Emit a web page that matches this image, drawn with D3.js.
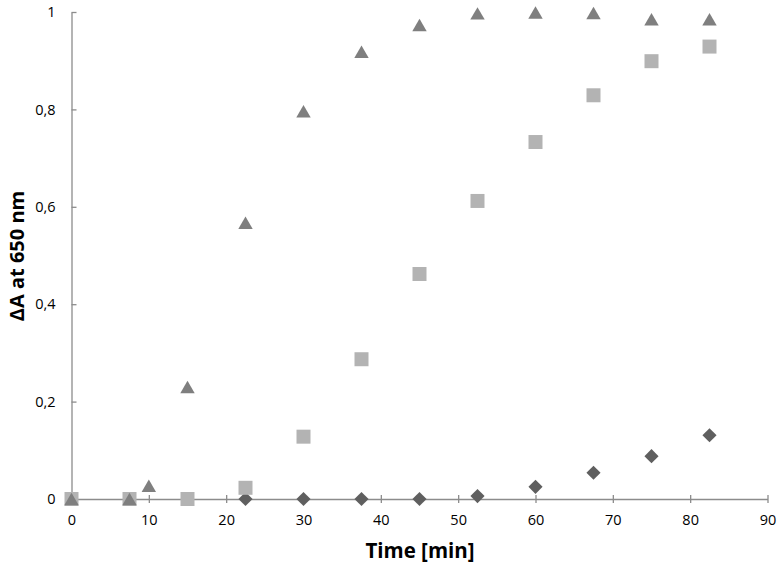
<!DOCTYPE html>
<html><head><meta charset="utf-8">
<script src="https://cdn.jsdelivr.net/npm/d3@7"></script>
<style>body{margin:0;background:#fff}svg{display:block}</style>
</head><body>
<script>
const triTime = [0, 7.5, 10, 15, 22.5, 30, 37.5, 45, 52.5, 60, 67.5, 75, 82.5];
const triValues = [0, 0, 0.027, 0.23, 0.567, 0.796, 0.918, 0.973, 0.997, 0.999, 0.998, 0.985, 0.985];
const sqTime = [0, 7.5, 15, 22.5, 30, 37.5, 45, 52.5, 60, 67.5, 75, 82.5];
const sqValues = [0, 0, 0, 0.023, 0.128, 0.287, 0.462, 0.612, 0.733, 0.829, 0.899, 0.929];
const diaTime = [22.5, 30, 37.5, 45, 52.5, 60, 67.5, 75, 82.5];
const diaValues = [0, 0, 0, 0, 0.006, 0.025, 0.054, 0.088, 0.131];
const xTicks = [0, 10, 20, 30, 40, 50, 60, 70, 80, 90];
const yTicks = [0, 0.2, 0.4, 0.6, 0.8, 1];
const xTitle = "Time [min]";
const yTitle = "ΔA at 650 nm";

const W = 781, H = 571;
const svg = d3.select("body").append("svg").attr("width", W).attr("height", H);
const x = d3.scaleLinear().domain([0, 90]).range([71.5, 767.5]);
const y = d3.scaleLinear().domain([0, 1]).range([499, 12]);
const axisColor = "#8c8c8c";
const font = "'Open Sans', 'Liberation Sans', sans-serif";

// axes
const xAxis = svg.append("g").attr("transform", `translate(0,${y(0)})`)
  .call(d3.axisBottom(x).tickValues(xTicks).tickSize(0).tickPadding(16).tickFormat(d3.format("d")));
xAxis.select(".domain").attr("stroke", axisColor).attr("stroke-width", 1.3);
xAxis.selectAll(".tick").append("line").attr("y1", -4).attr("y2", 4).attr("stroke", axisColor).attr("stroke-width", 1.3);
xAxis.selectAll("text").attr("font-family", font).attr("font-size", 14.5).attr("fill", "#000");

const fmtY = d => d === 0 ? "0" : d === 1 ? "1" : d3.format(".1f")(d).replace(".", ",");
const yAxis = svg.append("g").attr("transform", `translate(${x(0)},0)`)
  .call(d3.axisLeft(y).tickValues(yTicks).tickSize(0).tickPadding(16).tickFormat(fmtY));
yAxis.select(".domain").attr("stroke", axisColor).attr("stroke-width", 1.3);
yAxis.selectAll(".tick").append("line").attr("x1", 0).attr("x2", 5).attr("stroke", axisColor).attr("stroke-width", 1.3);
yAxis.selectAll("text").attr("font-family", font).attr("font-size", 14.5).attr("fill", "#000");

// titles
svg.append("text").attr("x", 420).attr("y", 558).attr("text-anchor", "middle")
  .attr("font-family", font).attr("font-weight", "bold").attr("font-size", 20.5).text(xTitle);
svg.append("text").attr("transform", `translate(24,256) rotate(-90)`).attr("text-anchor", "middle")
  .attr("font-family", font).attr("font-weight", "bold").attr("font-size", 20).text(yTitle);

// markers
const dia = diaTime.map((t, i) => ({t, v: diaValues[i]}));
const sq = sqTime.map((t, i) => ({t, v: sqValues[i]}));
const tri = triTime.map((t, i) => ({t, v: triValues[i]}));

svg.append("g").selectAll("path").data(dia).join("path")
  .attr("d", d3.symbol(d3.symbolSquare, 100)())
  .attr("transform", d => `translate(${x(d.t)},${y(d.v)}) rotate(45)`)
  .attr("fill", "#5f5f5f");
svg.append("g").selectAll("path").data(sq).join("path")
  .attr("d", d3.symbol(d3.symbolSquare, 196)())
  .attr("transform", d => `translate(${x(d.t)},${y(d.v)})`)
  .attr("fill", "#b3b3b3");
// triangle: shift so its bounding box (not centroid) is centred on the value
svg.append("g").selectAll("path").data(tri).join("path")
  .attr("d", d3.symbol(d3.symbolTriangle, 90)())
  .attr("transform", d => `translate(${x(d.t)},${y(d.v) + 2})`)
  .attr("fill", "#7f7f7f");
</script>
</body></html>
